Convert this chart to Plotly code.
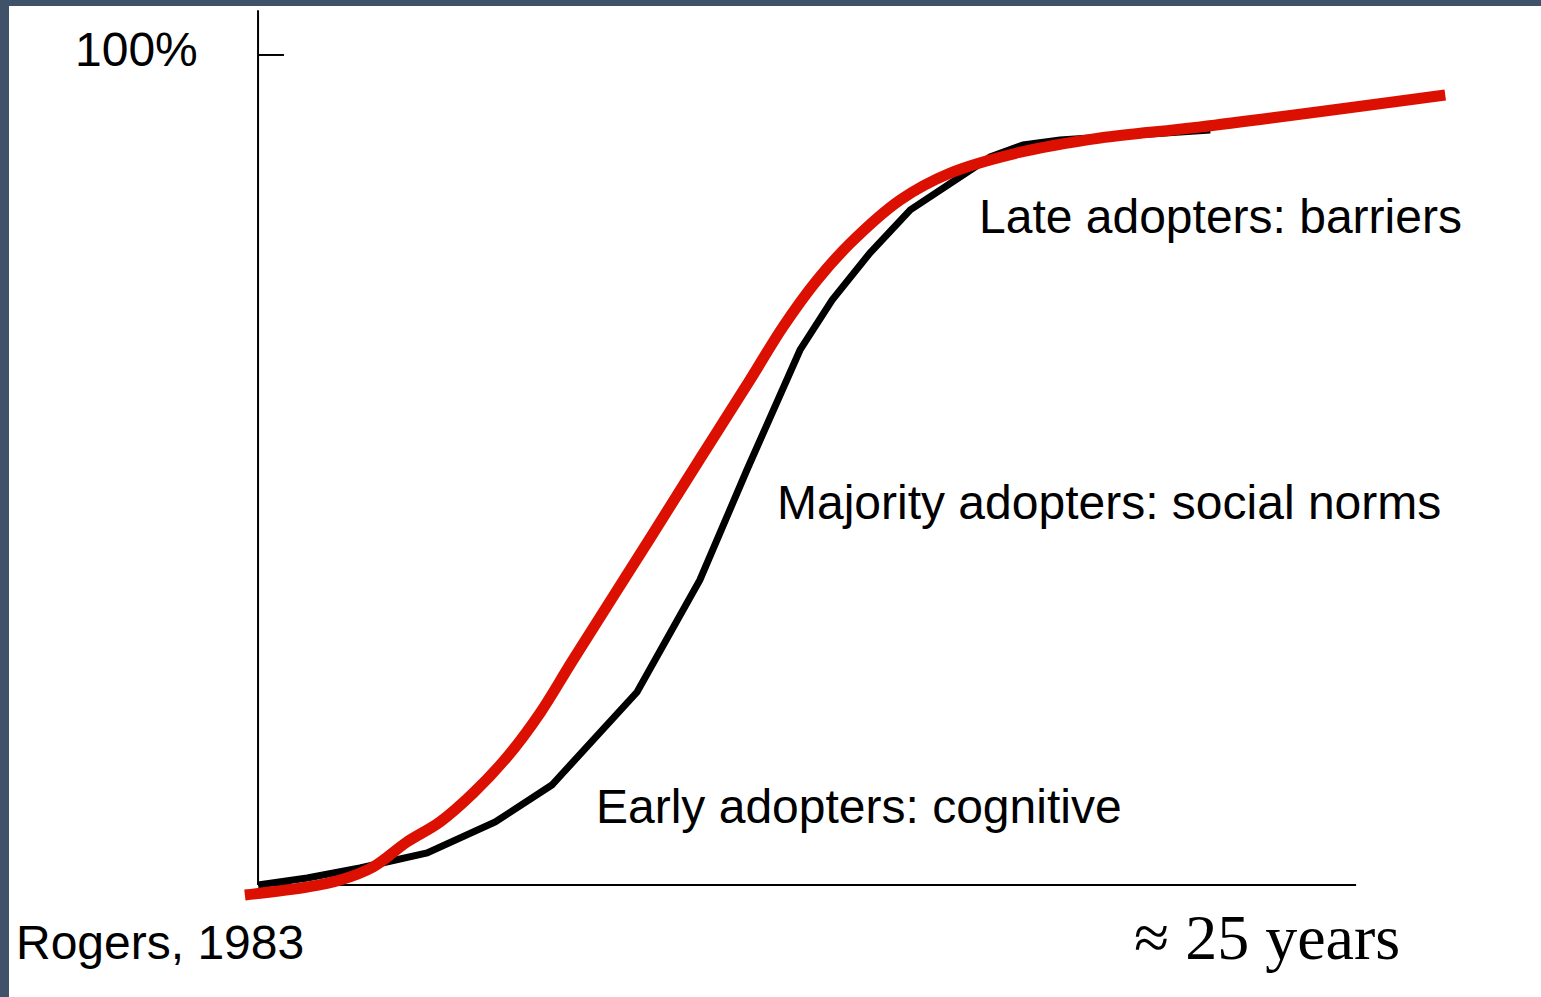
import plotly.graph_objects as go

# Observed adoption (black polyline), years vs % adopted
years_observed = [0, 1.12, 2.32, 3.85, 5.40, 6.69, 8.63, 10.06, 11.13, 12.34,
                  13.07, 13.93, 14.85, 16.67, 17.42, 18.26, 21.68]
pct_observed = [0, 0.84, 2.05, 3.86, 7.59, 12.05, 23.25, 36.75, 50.0, 64.46,
                70.48, 76.14, 81.33, 87.71, 89.16, 89.76, 90.96]

# Fitted S-curve (red)
years_fit = [-0.30, 1.12, 1.87, 2.62, 3.39, 4.14, 4.90, 5.67, 6.42, 7.17, 8.93,
             10.06, 11.20, 11.95, 12.73, 13.48, 14.62, 15.76, 17.28, 19.17,
             21.45, 27.03]
pct_fit = [-1.20, -0.24, 0.60, 2.17, 5.18, 7.59, 11.08, 15.42, 20.72, 27.11,
           41.81, 51.33, 60.84, 67.23, 72.89, 77.3, 82.53, 85.78, 88.19, 90.0,
           91.33, 95.18]

# Stage labels: (text, x, y)
stage_labels = [
    ("Late adopters: barriers", 16.37, 80.5),
    ("Majority adopters: social norms", 11.77, 46.1),
    ("Early adopters: cognitive", 7.65, 9.5),
]

x_axis_end = 25
y_axis_top = 105.4
top_tick = 100

fig = go.Figure()

fig.add_trace(
    go.Scatter(
        x=years_observed,
        y=pct_observed,
        mode="lines",
        line={"color": "black", "width": 7},
        hoverinfo="skip",
    )
)

fig.add_trace(
    go.Scatter(
        x=years_fit,
        y=pct_fit,
        mode="lines",
        line={"color": "#dc1000", "width": 11, "shape": "spline", "smoothing": 1.0},
        hoverinfo="skip",
    )
)

# hand-drawn style axes
axis_line = {"color": "black", "width": 2}
fig.add_shape(type="line", x0=0, x1=0, y0=0, y1=y_axis_top, line=axis_line, layer="below")
fig.add_shape(type="line", x0=0, x1=x_axis_end, y0=0, y1=0, line=axis_line, layer="below")
fig.add_shape(type="line", x0=0, x1=0.59, y0=top_tick, y1=top_tick, line=axis_line, layer="below")

sans = {"family": "Liberation Sans, Arial", "size": 48, "color": "black"}

for text, x, y in stage_labels:
    fig.add_annotation(x=x, y=y, text=text, showarrow=False,
                       xanchor="left", yanchor="middle", font=sans)

fig.add_annotation(x=-4.22, y=100.6, text="100%", showarrow=False,
                   xanchor="left", yanchor="middle", font=sans)
fig.add_annotation(x=-5.56, y=-6.87, text="Rogers, 1983", showarrow=False,
                   xanchor="left", yanchor="middle", font=sans)
fig.add_annotation(x=19.90, y=-6.27, text="\u2248 25 years", showarrow=False,
                   xanchor="left", yanchor="middle",
                   font={"family": "Liberation Serif, Times New Roman", "size": 64,
                         "color": "black"})

fig.update_layout(
    width=1541,
    height=997,
    margin={"l": 9, "r": 0, "t": 6, "b": 0},
    paper_bgcolor="#3f526a",
    plot_bgcolor="white",
    showlegend=False,
    xaxis={"range": [-5.67, 29.21], "visible": False, "fixedrange": True},
    yaxis={"range": [-13.49, 105.9], "visible": False, "fixedrange": True},
)

fig.write_html(
    "out.html",
    config={"displayModeBar": False},
    post_script="document.body.style.margin='0';document.body.style.overflow='hidden';",
)
